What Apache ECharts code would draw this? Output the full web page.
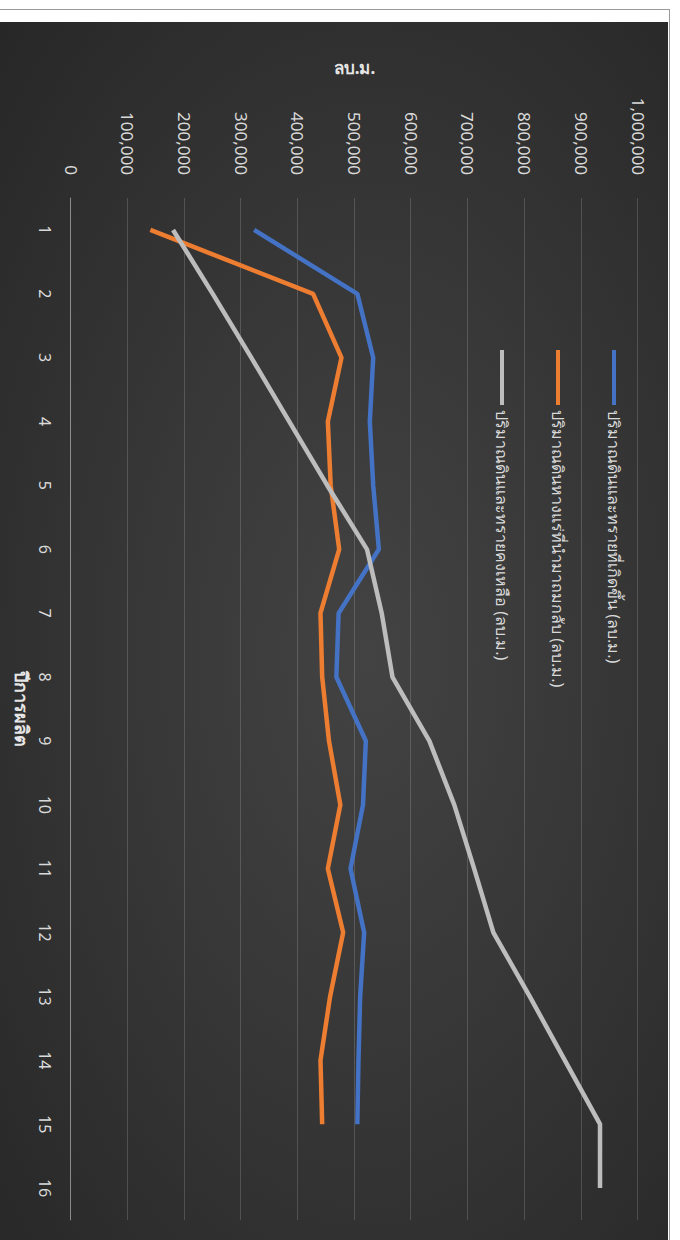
<!DOCTYPE html>
<html>
<head>
<meta charset="utf-8">
<title>ดินและทราย</title>
<script src="https://cdn.jsdelivr.net/npm/echarts@6.0.0/dist/echarts.min.js"></script>
<style>
    html, body { margin: 0; padding: 0; background: #fff; width: 680px; height: 1240px; overflow: hidden; }
    .frame { position: absolute; left: 0; top: 9px; width: 669px; height: 1240px;
             border-top: 1px solid #9a9a9a; border-right: 1px solid #9a9a9a; }
    /* the chart is drawn the normal way and then turned a quarter turn clockwise */
    #echart1 { position: absolute; left: 0; top: 0; width: 1218px; height: 668px;
               transform-origin: 0 0; transform: translate(668px, 22px) rotate(90deg);
               background: radial-gradient(ellipse at 52% 45%, #434343 0%, #373737 45%, #272727 100%); }
</style>
</head>
<body>
<div class="frame"></div>
<div id="echart1"></div>
<script>
// ปีการผลิต
var years = ['1', '2', '3', '4', '5', '6', '7', '8', '9', '10', '11', '12', '13', '14', '15', '16'];
var seriesNames = [
    'ปริมาณดินและทรายที่เกิดขึ้น (ลบ.ม.)',
    'ปริมาณดินหางแร่ที่นำมาถมกลับ (ลบ.ม.)',
    'ปริมาณดินและทรายคงเหลือ (ลบ.ม.)'
];
var soilGenerated = [323000, 505000, 533000, 527000, 533000, 543000, 472000, 468000, 520000, 515000, 493000, 517000, 510000, 507000, 505000];
var tailingsBackfill = [140000, 427000, 477000, 453000, 458000, 473000, 440000, 443000, 455000, 475000, 453000, 480000, 457000, 440000, 443000];
var soilRemaining = [180000, 250000, 318000, 385000, 452000, 522000, 548000, 567000, 632000, 676000, 711000, 745000, 809000, 871000, 933000, 933000];
var lineColors = ['#4472c4', '#ed7d31', '#bdbdbd'];

echarts_1();

function echarts_1() {
    var myChart = echarts.init(document.getElementById('echart1'), null, { renderer: 'svg' });

    option = {
        color: lineColors,
        textStyle: {
            fontFamily: 'Noto Sans, DejaVu Sans, sans-serif'
        },
        legend: {
            orient: 'vertical',
            left: 323,
            top: 40,
            icon: 'rect',
            itemWidth: 55,
            itemHeight: 4,
            itemGap: 38,
            textStyle: {
                color: '#d9d9d9',
                fontSize: 16,
                lineHeight: 18
            },
            data: seriesNames
        },
        grid: {
            left: 176,
            right: 20,
            top: 30,
            bottom: 71
        },
        xAxis: {
            type: 'category',
            data: years,
            boundaryGap: true,
            name: 'ปีการผลิต',
            nameLocation: 'middle',
            nameGap: 40,
            nameTextStyle: {
                color: '#e6e6e6',
                fontSize: 18,
                fontWeight: 'bold'
            },
            axisLine: {
                lineStyle: { color: 'rgba(255,255,255,0.35)' }
            },
            axisTick: { show: false },
            axisLabel: {
                color: '#d9d9d9',
                fontSize: 16,
                margin: 18
            }
        },
        yAxis: {
            type: 'value',
            min: 0,
            max: 1000000,
            interval: 100000,
            name: 'ลบ.ม.',
            nameLocation: 'middle',
            nameRotate: 90,
            nameGap: 122,
            nameTextStyle: {
                color: '#e6e6e6',
                fontSize: 17,
                fontWeight: 'bold'
            },
            axisLine: { show: false },
            axisTick: { show: false },
            axisLabel: {
                color: '#d9d9d9',
                fontSize: 17,
                margin: 23,
                formatter: function (v) {
                    return String(v).replace(/\B(?=(\d{3})+(?!\d))/g, ',');
                }
            },
            splitLine: {
                lineStyle: { color: 'rgba(255,255,255,0.16)', width: 1 }
            }
        },
        series: [
            {
                name: seriesNames[0],
                type: 'line',
                data: soilGenerated,
                symbol: 'none',
                lineStyle: { width: 4.5 }
            },
            {
                name: seriesNames[1],
                type: 'line',
                data: tailingsBackfill,
                symbol: 'none',
                lineStyle: { width: 4.5 }
            },
            {
                name: seriesNames[2],
                type: 'line',
                data: soilRemaining,
                symbol: 'none',
                lineStyle: { width: 4.5 }
            }
        ]
    };

    myChart.setOption(option);
}
</script>
</body>
</html>
